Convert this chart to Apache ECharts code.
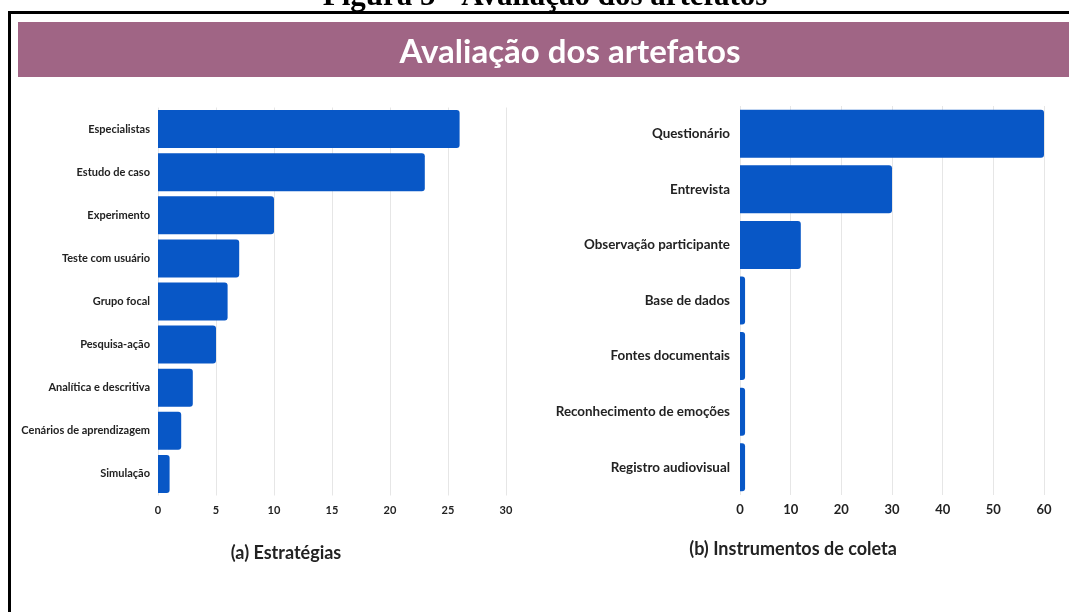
<!DOCTYPE html>
<html>
<head>
<meta charset="utf-8">
<script src="https://cdn.jsdelivr.net/npm/echarts@6/dist/echarts.min.js"></script>
<style>
html,body{margin:0;padding:0;background:#fff;}
#c{width:1069px;height:612px;}
</style>
</head>
<body>
<div id="c"></div>
<script>
const estrategias = ['Especialistas','Estudo de caso','Experimento','Teste com usuário','Grupo focal','Pesquisa-ação','Analítica e descritiva','Cenários de aprendizagem','Simulação'];
const estrategiasValores = [26, 23, 10, 7, 6, 5, 3, 2, 1];
const instrumentos = ['Questionário','Entrevista','Observação participante','Base de dados','Fontes documentais','Reconhecimento de emoções','Registro audiovisual'];
const instrumentosValores = [60, 30, 12, 1, 1, 1, 1];

const barColor = '#0857c6';
const labelFont = 'Lato';
const chart = echarts.init(document.getElementById('c'));
chart.setOption({
  backgroundColor: '#fff',
  animation: false,
  graphic: [
    {type:'text', x: 545, y: 12, style:{text:'Figura 5 - Avaliação dos artefatos', font:'bold 31px "Liberation Serif"', fill:'#000', align:'center', verticalAlign:'bottom'}},
    {type:'rect', shape:{x:8, y:11, width:1061, height:3}, style:{fill:'#000'}},
    {type:'rect', shape:{x:8, y:11, width:3, height:601}, style:{fill:'#000'}},
    {type:'rect', shape:{x:18, y:22, width:1051, height:55}, style:{fill:'#a06585'}},
    {type:'text', x: 570, y: 52, style:{text:'Avaliação dos artefatos', font:'bold 33px Lato', fill:'#fff', align:'center', verticalAlign:'middle'}},
    {type:'text', x: 286, y: 553, style:{text:'(a) Estratégias', font:'bold 18px Lato', fill:'#222', align:'center', verticalAlign:'middle'}},
    {type:'text', x: 793, y: 549, style:{text:'(b) Instrumentos de coleta', font:'bold 18px Lato', fill:'#222', align:'center', verticalAlign:'middle'}}
  ],
  grid: [
    {left:158, width:348, top:107.5, height:388, containLabel:false},
    {left:740, width:304, top:106, height:389, containLabel:false}
  ],
  xAxis: [
    {type:'value', gridIndex:0, min:0, max:30, interval:5,
     axisLine:{show:false}, axisTick:{show:false},
     axisLabel:{color:'#222', fontFamily:labelFont, fontSize:11, fontWeight:'bold', margin:9},
     splitLine:{lineStyle:{color:'#e6e6e6', width:1}}},
    {type:'value', gridIndex:1, min:0, max:60, interval:10,
     axisLine:{show:false}, axisTick:{show:false},
     axisLabel:{color:'#222', fontFamily:labelFont, fontSize:13, fontWeight:'bold', margin:8},
     splitLine:{lineStyle:{color:'#e6e6e6', width:1}}}
  ],
  yAxis: [
    {type:'category', gridIndex:0, data:estrategias, inverse:true,
     axisLine:{show:false}, axisTick:{show:false},
     axisLabel:{color:'#222', fontFamily:labelFont, fontSize:11, fontWeight:'bold', margin:8}},
    {type:'category', gridIndex:1, data:instrumentos, inverse:true,
     axisLine:{show:false}, axisTick:{show:false},
     axisLabel:{color:'#222', fontFamily:labelFont, fontSize:13.4, fontWeight:'bold', margin:10}}
  ],
  series: [
    {type:'bar', xAxisIndex:0, yAxisIndex:0, data:estrategiasValores, barWidth:38,
     itemStyle:{color:barColor, borderRadius:[0,3,3,0]}},
    {type:'bar', xAxisIndex:1, yAxisIndex:1, data:instrumentosValores, barWidth:48,
     itemStyle:{color:barColor, borderRadius:[0,3,3,0]}}
  ]
});
</script>
</body>
</html>
